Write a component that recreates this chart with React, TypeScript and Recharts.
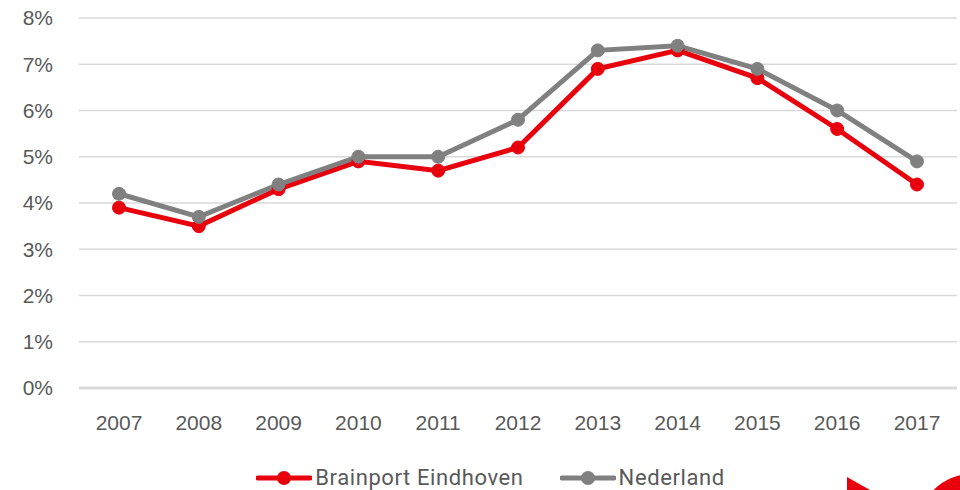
import React from 'react';
import { LineChart, Line, XAxis, YAxis, CartesianGrid, Legend } from 'recharts';

const years = ['2007', '2008', '2009', '2010', '2011', '2012', '2013', '2014', '2015', '2016', '2017'];
const brainport = [3.9, 3.5, 4.3, 4.9, 4.7, 5.2, 6.9, 7.3, 6.7, 5.6, 4.4];
const nederland = [4.2, 3.7, 4.4, 5.0, 5.0, 5.8, 7.3, 7.4, 6.9, 6.0, 4.9];
const yTicks = [0, 1, 2, 3, 4, 5, 6, 7, 8];

const RED = '#e8000d';
const GREY = '#808080';

const data = years.map((y, i) => ({
  year: y,
  brainport: brainport[i],
  nederland: nederland[i],
}));

const legendItems = [
  { name: 'Brainport Eindhoven', color: RED },
  { name: 'Nederland', color: GREY },
];

const LegendContent = () => (
  <div style={{ display: 'flex', justifyContent: 'center', gap: 36, paddingLeft: 24, paddingTop: 3 }}>
    {legendItems.map((it) => (
      <div key={it.name} style={{ display: 'flex', alignItems: 'center' }}>
        <svg width={56} height={16} style={{ marginRight: 3 }}>
          <line x1={2} y1={8} x2={54} y2={8} stroke={it.color} strokeWidth={5} strokeLinecap="round" />
          <circle cx={28} cy={8} r={7} fill={it.color} />
        </svg>
        <span style={{ fontFamily: 'Roboto, sans-serif', fontSize: 22, letterSpacing: 0.6, color: '#595959' }}>{it.name}</span>
      </div>
    ))}
  </div>
);

const App = () => {
  return (
    <div style={{ position: 'absolute', left: 0, top: 0, width: 960, height: 490, background: '#fff', overflow: 'hidden' }}>
      <LineChart width={960} height={490} data={data} margin={{ top: 18, right: 3, left: 0, bottom: 0 }}>
        <CartesianGrid vertical={false} stroke="#d9d9d9" strokeWidth={1.5} />
        <XAxis
          dataKey="year"
          padding={{ left: 40, right: 40 }}
          height={74}
          tickLine={false}
          tickSize={0}
          tickMargin={27}
          axisLine={{ stroke: '#d9d9d9', strokeWidth: 3 }}
          tick={{ fill: '#595959', fontSize: 21, fontFamily: 'Liberation Sans, Arial, sans-serif' }}
        />
        <YAxis
          width={79}
          domain={[0, 8]}
          ticks={yTicks}
          tickFormatter={(v) => `${v}%`}
          axisLine={false}
          tickLine={false}
          tickSize={0}
          tickMargin={26}
          tick={{ fill: '#595959', fontSize: 21, fontFamily: 'Liberation Sans, Arial, sans-serif' }}
        />
        <Line
          dataKey="brainport"
          name="Brainport Eindhoven"
          stroke={RED}
          strokeWidth={5}
          dot={{ r: 6.5, fill: RED, stroke: RED, strokeWidth: 1 }}
          activeDot={false}
          isAnimationActive={false}
        />
        <Line
          dataKey="nederland"
          name="Nederland"
          stroke={GREY}
          strokeWidth={5}
          dot={{ r: 6.5, fill: GREY, stroke: GREY, strokeWidth: 1 }}
          activeDot={false}
          isAnimationActive={false}
        />
        <Legend content={<LegendContent />} verticalAlign="bottom" wrapperStyle={{ bottom: 0, height: 28 }} />
      </LineChart>
      <svg width={960} height={490} style={{ position: 'absolute', left: 0, top: 0, pointerEvents: 'none' }}>
        <polygon points="847,477 870,490 847,490" fill={RED} />
        <circle cx={972} cy={528} r={54} fill={RED} />
      </svg>
    </div>
  );
};

export default App;
